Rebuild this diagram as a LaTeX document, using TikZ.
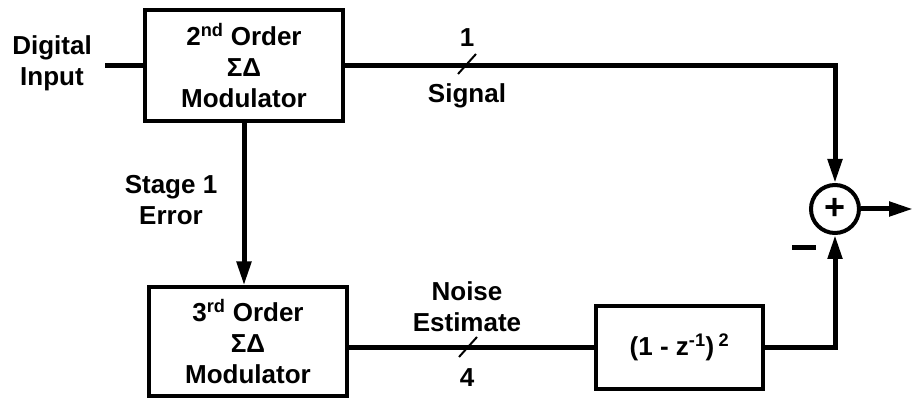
\documentclass[tikz,border=0pt]{standalone}
\usepackage{fontspec}
\setmainfont{Liberation Sans}
\usetikzlibrary{arrows.meta, positioning, calc}
\tikzset{
    block/.style={
        rectangle,
        draw=black,
        line width=4pt,
        align=center,
        inner sep=0pt,
        font=\bfseries\fontsize{26}{31}\selectfont
    },
    sumnode/.style={
        circle,
        draw=black,
        line width=4pt,
        minimum size=48pt,
        inner sep=0pt,
        font=\bfseries\fontsize{36}{36}\selectfont
    },
    txt/.style={
        align=center,
        inner sep=0pt,
        font=\bfseries\fontsize{26}{31}\selectfont
    },
    wire/.style={line width=5pt},
    tick/.style={line width=2pt},
    arrow/.style={line width=5pt, -{Triangle[length=24pt, width=14pt]}}
}

\begin{document}
\begin{tikzpicture}[x=1pt, y=1pt]
        \useasboundingbox (0,0) rectangle (914,399);

        \node (mod2) [block, minimum width=198pt, minimum height=111pt] at (244,333.5) {2\textsuperscript{nd} Order\\ΣΔ\\Modulator};
        \node (mod3) [block, minimum width=198pt, minimum height=109pt] at (248,57) {3\textsuperscript{rd} Order\\ΣΔ\\Modulator};
        \node (filt) [block, minimum width=167pt, minimum height=83pt] at (679.5,51.5) {(1 - z\textsuperscript{-1})\,\textsuperscript{2}};
        \node (sum) [sumnode] at (835,190) {+};

        \coordinate (inp) at (105,333.5);
        \coordinate (out) at (913,190);
        \coordinate (slash1) at (467,335);
        \coordinate (slash2) at (468,52);

        % labels
        \node (lblin) [txt] at (52,336) {Digital\\Input};
        \node (lblone) [txt, anchor=base] at (467,352) {1};
        \node (lblsig) [txt, anchor=base] at (467,296) {Signal};
        \node (lblerr) [txt] at (171,199) {Stage 1\\Error};
        \node (lblnoise) [txt] at (467,92) {Noise\\Estimate};
        \node (lblfour) [txt, anchor=base] at (467,12) {4};
        \node (minus) [inner sep=0pt] at (804,151) {\rule{24pt}{5pt}};

        % connectors
        \draw [wire] (inp) -- (mod2.west);
        \draw [arrow] (mod2.east) -| (sum.north);
        \draw [arrow] (mod2.south) -- (mod2.south |- mod3.north);
        \draw [wire] (mod3.east |- filt.west) -- (filt.west);
        \draw [arrow] (filt.east) -| (sum.south);
        \draw [arrow] (sum.east) -- (out);

        % bus width ticks
        \draw [tick] ($(slash1)+(-9,-10)$) -- ($(slash1)+(9,10)$);
        \draw [tick] ($(slash2)+(-9,-10)$) -- ($(slash2)+(9,10)$);

    \end{tikzpicture}
\end{document}
